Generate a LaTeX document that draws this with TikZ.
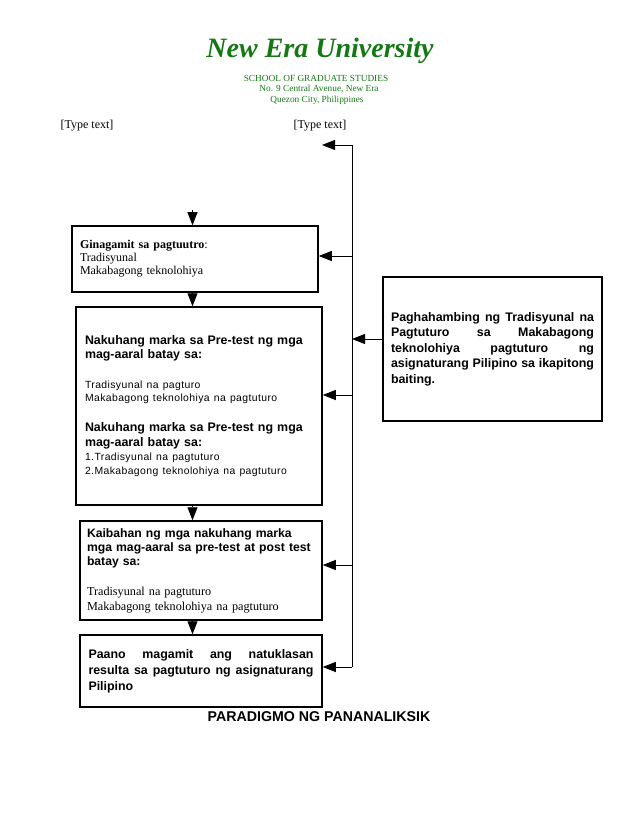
\documentclass[tikz,border=0pt]{standalone}
\usepackage{fontspec}
\setmainfont{Liberation Serif}
\setsansfont{Liberation Sans}
\newfontfamily\widesans[LetterSpace=4]{Liberation Sans}
\usetikzlibrary{arrows.meta,positioning}
\definecolor{neugreen}{RGB}{20,120,20}
\hyphenpenalty=10000
\tikzstyle{box}=[draw, line width=1.5pt, inner xsep=8pt, inner ysep=0pt, align=left,
  font=\sffamily\bfseries\fontsize{12.4}{14}\selectfont]
\tikzstyle{feed}=[line width=0.8pt, -{Triangle[length=13pt,width=10pt]}]
\tikzstyle{head}=[text=neugreen, inner sep=0pt, font=\fontsize{9.3}{11}\selectfont]
\newcommand{\bx}{\node[box]}

\begin{document}
\begin{tikzpicture}[x=1pt,y=-1pt]
            \useasboundingbox (0,0) rectangle (638,826);
            % letterhead
            \node[head, font=\bfseries\itshape\fontsize{28}{30}\selectfont] (uni) at (320,51) {New Era University};
            \node[head] (school) at (316,78) {SCHOOL OF GRADUATE STUDIES};
            \node[head] (street) at (319,89) {No. 9 Central Avenue, New Era};
            \node[head] (city) at (317,100) {Quezon City, Philippines};
            \node[font=\fontsize{12}{14}\selectfont] (typel) at (87,126) {[Type text]};
            \node[font=\fontsize{12}{14}\selectfont] (typer) at (320,126) {[Type text]};
            % boxes
            \bx (gamit) at (195,259) [minimum width=246pt, minimum height=66pt, text width=230pt,
                font=\rmfamily\fontsize{12}{13}\selectfont]
                {\textbf{Ginagamit sa pagtuutro}:\\ Tradisyunal\\ Makabagong teknolohiya};
            \bx (marka) at (199,406) [minimum width=246pt, minimum height=198pt, text width=228pt, inner xsep=9pt]
                {Nakuhang marka sa Pre-test ng mga\\ mag-aaral batay sa:\\[16pt]
                 {\mdseries\widesans\fontsize{10.4}{14}\selectfont Tradisyunal na pagturo}\\[-1pt]
                 {\mdseries\widesans\fontsize{10.4}{14}\selectfont Makabagong teknolohiya na pagtuturo}\\[16pt]
                 Nakuhang marka sa Pre-test ng mga\\[1pt] mag-aaral batay sa:\\
                 {\mdseries\widesans\fontsize{10.4}{14}\selectfont 1.Tradisyunal na pagtuturo}\\
                 {\mdseries\widesans\fontsize{10.4}{14}\selectfont 2.Makabagong teknolohiya na pagtuturo}};
            \bx (kaiba) at (201,570.5) [minimum width=242pt, minimum height=99pt, text width=228pt, inner xsep=7pt,
                font=\sffamily\bfseries\fontsize{12.2}{14}\selectfont]
                {Kaibahan ng mga nakuhang marka\\ mga mag-aaral sa pre-test at post test\\ batay sa:\\[16pt]
                 {\rmfamily\mdseries Tradisyunal na pagtuturo}\\[1pt]
                 {\rmfamily\mdseries Makabagong teknolohiya na pagtuturo}};
            \bx (gamitin) at (201,671) [minimum width=242pt, minimum height=72pt, text width=225pt, align=justify,
                font=\sffamily\bfseries\fontsize{12.4}{16}\selectfont]
                {Paano magamit ang natuklasan\linebreak resulta sa pagtuturo ng asignaturang Pilipino};
            \bx (layunin) at (492.5,349) [minimum width=219pt, minimum height=144pt, text width=203pt, align=justify,
                font=\sffamily\bfseries\fontsize{12.4}{15.5}\selectfont]
                {Paghahambing ng Tradisyunal na\linebreak Pagtuturo sa Makabagong\linebreak teknolohiya pagtuturo ng\linebreak
                 asignaturang Pilipino sa ikapitong baiting.};
            \node[font=\sffamily\bfseries\fontsize{14.2}{16}\selectfont] (paradigm) at (319,717) {PARADIGMO NG PANANALIKSIK};
            % connectors
            \coordinate (start) at (192.5,210);
            \coordinate (bustop) at (352,145);
            \coordinate (typetip) at (322,145);
            \coordinate (busend) at (352,667);
            \path ([yshift=3pt]gamit.east) coordinate (gamitport)
                  ([yshift=11pt]marka.east) coordinate (markaport)
                  ([yshift=5.5pt]kaiba.east) coordinate (kaibaport)
                  ([yshift=4pt]gamitin.east) coordinate (gamitinport)
                  ([yshift=10pt]layunin.west) coordinate (layuninport);
            \draw[line width=0.8pt] (busend) -- (bustop);
            \path 
                (bustop) edge[feed] (typetip)
                (start) edge[feed] (start |- gamit.north)
                (start |- gamit.south) edge[feed] (start |- marka.north)
                (start |- marka.south) edge[feed] (start |- kaiba.north)
                (start |- kaiba.south) edge[feed] (start |- gamitin.north)
                (gamitport -| bustop) edge[feed] (gamitport)
                (markaport -| bustop) edge[feed] (markaport)
                (kaibaport -| bustop) edge[feed] (kaibaport)
                (gamitinport -| bustop) edge[feed] (gamitinport)
                (layuninport) edge[feed] (layuninport -| bustop)
            ;
        \end{tikzpicture}
\end{document}
